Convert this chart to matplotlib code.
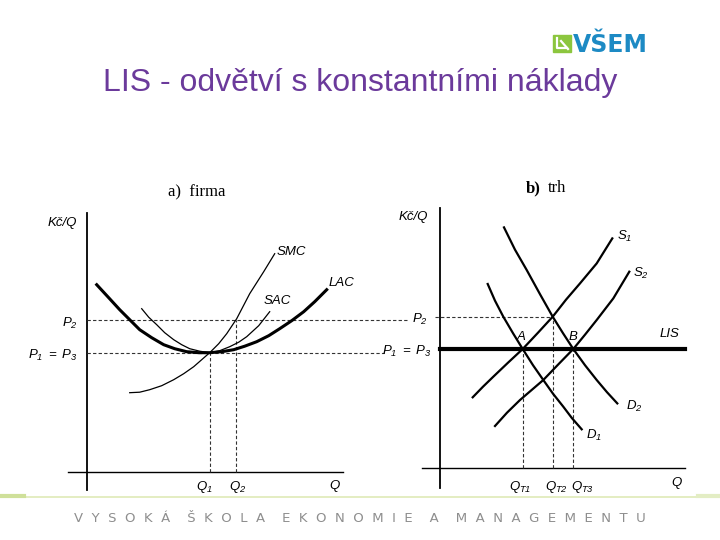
import matplotlib
matplotlib.use("Agg")
import matplotlib.pyplot as plt
from matplotlib.patches import Rectangle

# Mathtext in italic sans, like the scanned textbook labels
plt.rcParams['mathtext.fontset'] = 'custom'
plt.rcParams['mathtext.rm'] = 'Liberation Sans:italic'
plt.rcParams['mathtext.it'] = 'Liberation Sans:italic'
plt.rcParams['font.family'] = ['Liberation Sans', 'DejaVu Sans']

# ---- Data: panel a) firma (Q, Kc/Q) ----
LAC_Q = [1.0, 2.2, 3.3, 4.3, 5.3, 6.5, 7.7, 8.8, 10.0, 11.2, 12.3, 13.5, 14.7, 15.8, 17.0,
         18.2, 19.3, 20.5, 21.7, 22.8, 24.0]
LAC_P = [18.7, 17.4, 16.2, 15.2, 14.2, 13.4, 12.7, 12.3, 12.0, 11.9, 11.9, 12.0, 12.2, 12.55, 13.0,
         13.6, 14.3, 15.1, 16.0, 17.0, 18.2]
SAC_Q = [5.5, 6.2, 7.0, 7.8, 8.7, 9.5, 10.3, 11.3, 12.3, 13.3, 14.3, 15.2, 16.0, 17.2, 18.3]
SAC_P = [16.3, 15.45, 14.7, 13.9, 13.2, 12.7, 12.3, 12.05, 11.9, 12.1, 12.5, 12.95, 13.5, 14.6, 16.0]
SMC_Q = [4.3, 5.3, 6.3, 7.5, 8.7, 9.7, 10.7, 11.5, 12.3, 13.2, 14.0, 15.0, 16.3, 17.7, 18.8]
SMC_P = [7.9, 7.95, 8.2, 8.6, 9.2, 9.8, 10.5, 11.2, 11.9, 12.8, 13.8, 15.3, 17.8, 20.0, 21.8]
FIRM_Q1, FIRM_Q2 = 12.3, 14.9
FIRM_P1, FIRM_P2 = 11.9, 15.2

# ---- Data: panel b) trh ----
S1_Q = [3.27, 4.3, 5.33, 6.8, 8.27, 9.8, 11.27, 12.6, 14.0, 15.67, 17.23]
S1_P = [7.04, 8.1, 9.1, 10.5, 11.87, 13.5, 15.1, 16.8, 18.43, 20.43, 22.93]
S2_Q = [5.5, 6.7, 8.0, 9.2, 10.33, 11.8, 13.33, 14.5, 15.67, 17.33, 18.93]
S2_P = [4.17, 5.5, 6.77, 7.8, 8.77, 10.3, 11.87, 13.3, 14.77, 16.93, 19.6]
D1_Q = [4.77, 5.5, 6.33, 7.3, 8.27, 9.3, 10.33, 11.3, 12.33, 13.2, 14.17]
D1_P = [18.37, 16.7, 15.1, 13.45, 11.87, 10.25, 8.77, 7.4, 6.1, 4.95, 3.84]
D2_Q = [6.4, 7.5, 8.67, 10.0, 11.27, 12.3, 13.33, 14.5, 15.67, 16.7, 17.73]
D2_P = [24.03, 21.8, 19.77, 17.35, 15.1, 13.45, 11.87, 10.25, 8.77, 7.55, 6.43]
MKT_QT1, MKT_QT2, MKT_QT3 = 8.27, 11.27, 13.33
MKT_P1, MKT_P2 = 11.87, 15.1

FOOTER_WORDS = ["VYSOKÁ", "ŠKOLA", "EKONOMIE", "A", "MANAGEMENTU"]

W, H = 720, 540
fig = plt.figure(figsize=(7.2, 5.4), dpi=100)
fig.patch.set_facecolor('white')

# background axes in pixel units for slide decoration
bg = fig.add_axes([0, 0, 1, 1])
bg.set_xlim(0, W)
bg.set_ylim(H, 0)
bg.axis('off')

bg.text(360, 83, "LIS - odvětví s konstantními náklady", color='#6b3a9b',
        fontsize=23, ha='center', va='center')

# logo
bg.add_patch(Rectangle((553, 35), 18, 17, color='#8cc63e'))
bg.plot([557, 557, 567], [38, 48, 48], color='white', lw=1.6)
bg.plot([561, 568], [41, 49], color='white', lw=1.6)
bg.text(573, 45, "VŠEM", color='#1d8ac4', fontsize=17, fontweight='bold',
        family='DejaVu Sans', ha='left', va='center')

# footer line + text
bg.plot([0, W], [497, 497], color='#dfeab8', lw=1.2)
bg.plot([0, 24], [496, 496], color='#cfe09a', lw=3)
bg.plot([698, W], [496, 496], color='#e3edc4', lw=3)
footer = "    ".join("  ".join(w) for w in FOOTER_WORDS)
bg.text(360, 518, footer, color='#8e8e8e', fontsize=9.5, family='DejaVu Sans',
        ha='center', va='center')


def panel(ox, oy):
    # full-figure axes, 1 unit = 10 px, origin at axis crossing
    ax = fig.add_axes([0, 0, 1, 1])
    ax.set_xlim(-ox / 10, (W - ox) / 10)
    ax.set_ylim(-(H - oy) / 10, oy / 10)
    ax.axis('off')
    ax.patch.set_alpha(0)
    return ax


lab = dict(fontsize=9.5, ha='center', va='center')
dash = dict(color='#333333', lw=0.8, ls=(0, (3, 2)))

# ---- panel a) firma ----
a = panel(86.7, 471.7)
a.plot([0, 0], [-1.8, 25.9], color='black', lw=1.3)
a.plot([-1.9, 25.6], [0, 0], color='black', lw=1.0)
a.plot([0, 32.1], [FIRM_P2, FIRM_P2], **dash)
a.plot([0, 29.7], [FIRM_P1, FIRM_P1], **dash)
a.plot([FIRM_Q1, FIRM_Q1], [0, FIRM_P1], **dash)
a.plot([FIRM_Q2, FIRM_Q2], [0, FIRM_P2], **dash)
a.plot(LAC_Q, LAC_P, color='black', lw=2.2, solid_joinstyle='round')
a.plot(SAC_Q, SAC_P, color='black', lw=0.9, solid_joinstyle='round')
a.plot(SMC_Q, SMC_P, color='black', lw=0.9, solid_joinstyle='round')

a.text(-2.47, 24.87, "Kč/Q", style='italic', **lab)
a.text(20.5, 21.97, "SMC", style='italic', **lab)
a.text(25.5, 18.87, "LAC", style='italic', **lab)
a.text(19.1, 17.07, "SAC", style='italic', **lab)
a.text(-0.9, 14.87, "$P_2$", fontsize=9.5, ha='right', va='center')
a.text(-0.9, 11.67, "$P_1\\ =\\ P_3$", fontsize=9.5, ha='right', va='center')
a.text(11.8, -1.5, "$Q_1$", **lab)
a.text(15.1, -1.5, "$Q_2$", **lab)
a.text(24.8, -1.4, "$Q$", **lab)
a.text(11.0, 27.97, "a)  firma", family='Liberation Serif', fontsize=12,
       ha='center', va='center')

# ---- panel b) trh ----
b = panel(440, 467.7)
b.plot([0, 0], [-2.0, 25.97], color='black', lw=1.3)
b.plot([-1.8, 24.5], [0, 0], color='black', lw=1.0)
b.plot([-0.5, MKT_QT2], [MKT_P2, MKT_P2], **dash)
b.plot([MKT_QT1, MKT_QT1], [0, MKT_P1], **dash)
b.plot([MKT_QT2, MKT_QT2], [0, MKT_P2], **dash)
b.plot([MKT_QT3, MKT_QT3], [0, MKT_P1], **dash)
b.plot([0, 24.5], [MKT_P1, MKT_P1], color='black', lw=3.0)
for q, p in [(S1_Q, S1_P), (S2_Q, S2_P), (D1_Q, D1_P), (D2_Q, D2_P)]:
    b.plot(q, p, color='black', lw=1.6, solid_joinstyle='round')

b.text(-2.7, 25.07, "Kč/Q", style='italic', **lab)
b.text(18.5, 23.17, "$S_1$", **lab)
b.text(20.1, 19.47, "$S_2$", **lab)
b.text(23.0, 13.37, "LIS", style='italic', **lab)
b.text(8.1, 13.07, "A", style='italic', **lab)
b.text(13.3, 13.07, "B", style='italic', **lab)
b.text(19.4, 6.17, "$D_2$", **lab)
b.text(15.4, 3.27, "$D_1$", **lab)
b.text(-1.2, 14.87, "$P_2$", fontsize=9.5, ha='right', va='center')
b.text(-0.8, 11.67, "$P_1\\ =\\ P_3$", fontsize=9.5, ha='right', va='center')
b.text(8.0, -1.93, "$Q_{T1}$", **lab)
b.text(11.6, -1.93, "$Q_{T2}$", **lab)
b.text(14.3, -1.93, "$Q_{T3}$", **lab)
b.text(23.7, -1.5, "$Q$", **lab)
b.text(9.3, 27.97, "b)", family='Liberation Serif', fontsize=12,
       fontweight='bold', ha='center', va='center')
b.text(11.7, 27.97, "trh", family='Liberation Serif', fontsize=12,
       ha='center', va='center')

fig.savefig("out.png", dpi=100)
